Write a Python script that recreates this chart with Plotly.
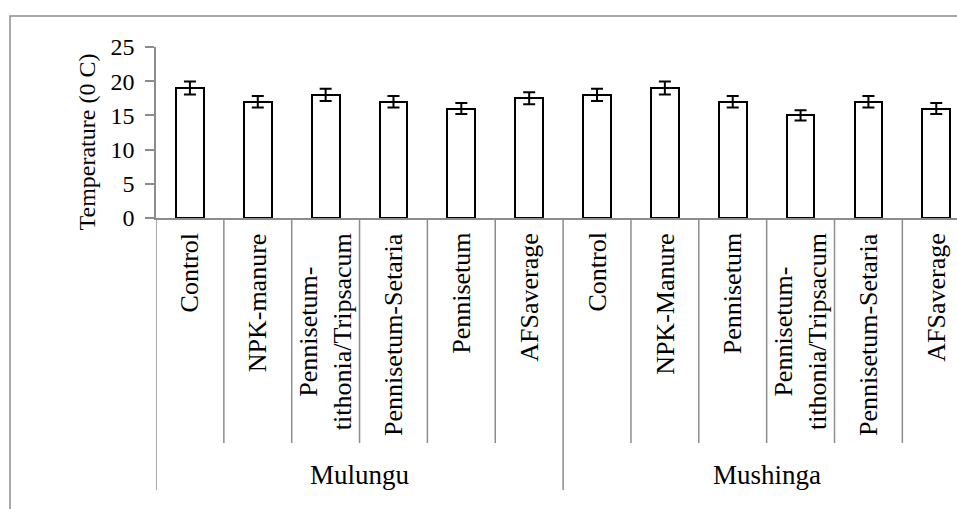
import plotly.graph_objects as go

# ---- data ----
sites = ["Mulungu", "Mushinga"]
treatments_mulungu = ["Control", "NPK-manure", "Pennisetum-<br>tithonia/Tripsacum",
                      "Pennisetum-Setaria", "Pennisetum", "AFSaverage"]
treatments_mushinga = ["Control", "NPK-Manure", "Pennisetum",
                       "Pennisetum-<br>tithonia/Tripsacum", "Pennisetum-Setaria", "AFSaverage"]
temp_mulungu = [19, 17, 18, 17, 16, 17.5]
temp_mushinga = [18, 19, 17, 15, 17, 16]
err_mulungu = [0.95, 0.85, 0.9, 0.85, 0.8, 0.875]
err_mushinga = [0.9, 0.95, 0.85, 0.75, 0.85, 0.8]
y_ticks = [0, 5, 10, 15, 20, 25]
y_title = "Temperature (0 C)"

labels = treatments_mulungu + treatments_mushinga
values = temp_mulungu + temp_mushinga
errors = err_mulungu + err_mushinga
groups = [(sites[0], len(treatments_mulungu)), (sites[1], len(treatments_mushinga))]
xpos = list(range(len(labels)))

# ---- layout geometry (pixels) ----
W, H = 957, 509
L, T = 156, 47
AXIS_Y = 218
PLOT_W = W - L
PLOT_H = AXIS_Y - T
CAT_W = 67.85
FONT = "Liberation Serif"
GRID_GRAY = "#8c8c8c"


def py(ypx):
    return (AXIS_Y - ypx) / PLOT_H


def pxp(xpx):
    return (xpx - L) / PLOT_W


fig = go.Figure()
fig.add_trace(go.Bar(
    x=xpos, y=values, width=0.41,
    marker=dict(color="white", line=dict(color="black", width=2)),
    error_y=dict(type="data", array=errors, visible=True,
                 color="black", thickness=2, width=6),
    showlegend=False, hoverinfo="skip",
))

shapes = []
annotations = []

# outer chart border
shapes.append(dict(type="rect", xref="paper", yref="paper",
                   x0=pxp(10), x1=pxp(W + 20), y0=py(H + 30), y1=py(16),
                   line=dict(color=GRID_GRAY, width=1.5), fillcolor="rgba(0,0,0,0)",
                   layer="below"))

# category separators and group separators
boundaries = [i - 0.5 for i in range(len(labels) + 1)]
group_edges = {-0.5}
acc = 0
for _, n in groups:
    acc += n
    group_edges.add(acc - 0.5)
for b in boundaries:
    bottom = 490 if b in group_edges else 443
    shapes.append(dict(type="line", xref="x", yref="paper",
                       x0=b, x1=b, y0=0, y1=py(bottom),
                       line=dict(color=GRID_GRAY, width=1.5)))

# rotated category labels
for x, lab in zip(xpos, labels):
    annotations.append(dict(x=x, y=py(231), xref="x", yref="paper",
                            text=lab, textangle=-90, showarrow=False,
                            xanchor="center", yanchor="top", align="center",
                            font=dict(family=FONT, size=26, color="black")))

# group labels
start = 0
for name, n in groups:
    annotations.append(dict(x=start + (n - 1) / 2, y=py(475), xref="x", yref="paper",
                            text=name, showarrow=False, xanchor="center", yanchor="middle",
                            font=dict(family=FONT, size=27, color="black")))
    start += n

# y axis title
annotations.append(dict(x=pxp(86), y=py(142.5), xref="paper", yref="paper",
                        text=y_title, textangle=-90, showarrow=False,
                        xanchor="center", yanchor="middle",
                        font=dict(family=FONT, size=24, color="black")))

fig.update_layout(
    width=W, height=H,
    margin=dict(l=L, r=W - L - PLOT_W, t=T, b=H - AXIS_Y, pad=0),
    paper_bgcolor="white", plot_bgcolor="white",
    font=dict(family=FONT, color="black"),
    shapes=shapes, annotations=annotations,
    bargap=0,
    xaxis=dict(range=[-0.5, -0.5 + PLOT_W / CAT_W], showticklabels=False,
               showgrid=False, zeroline=False, showline=True,
               linecolor=GRID_GRAY, linewidth=1.5, ticks=""),
    yaxis=dict(range=[0, 25], tickvals=y_ticks, ticks="outside", ticklen=9,
               tickcolor=GRID_GRAY, tickwidth=1.5, showline=True,
               linecolor=GRID_GRAY, linewidth=1.5, showgrid=False, zeroline=False,
               ticklabelstandoff=6,
               tickfont=dict(family=FONT, size=24, color="black")),
)

fig.write_html("out.html")
